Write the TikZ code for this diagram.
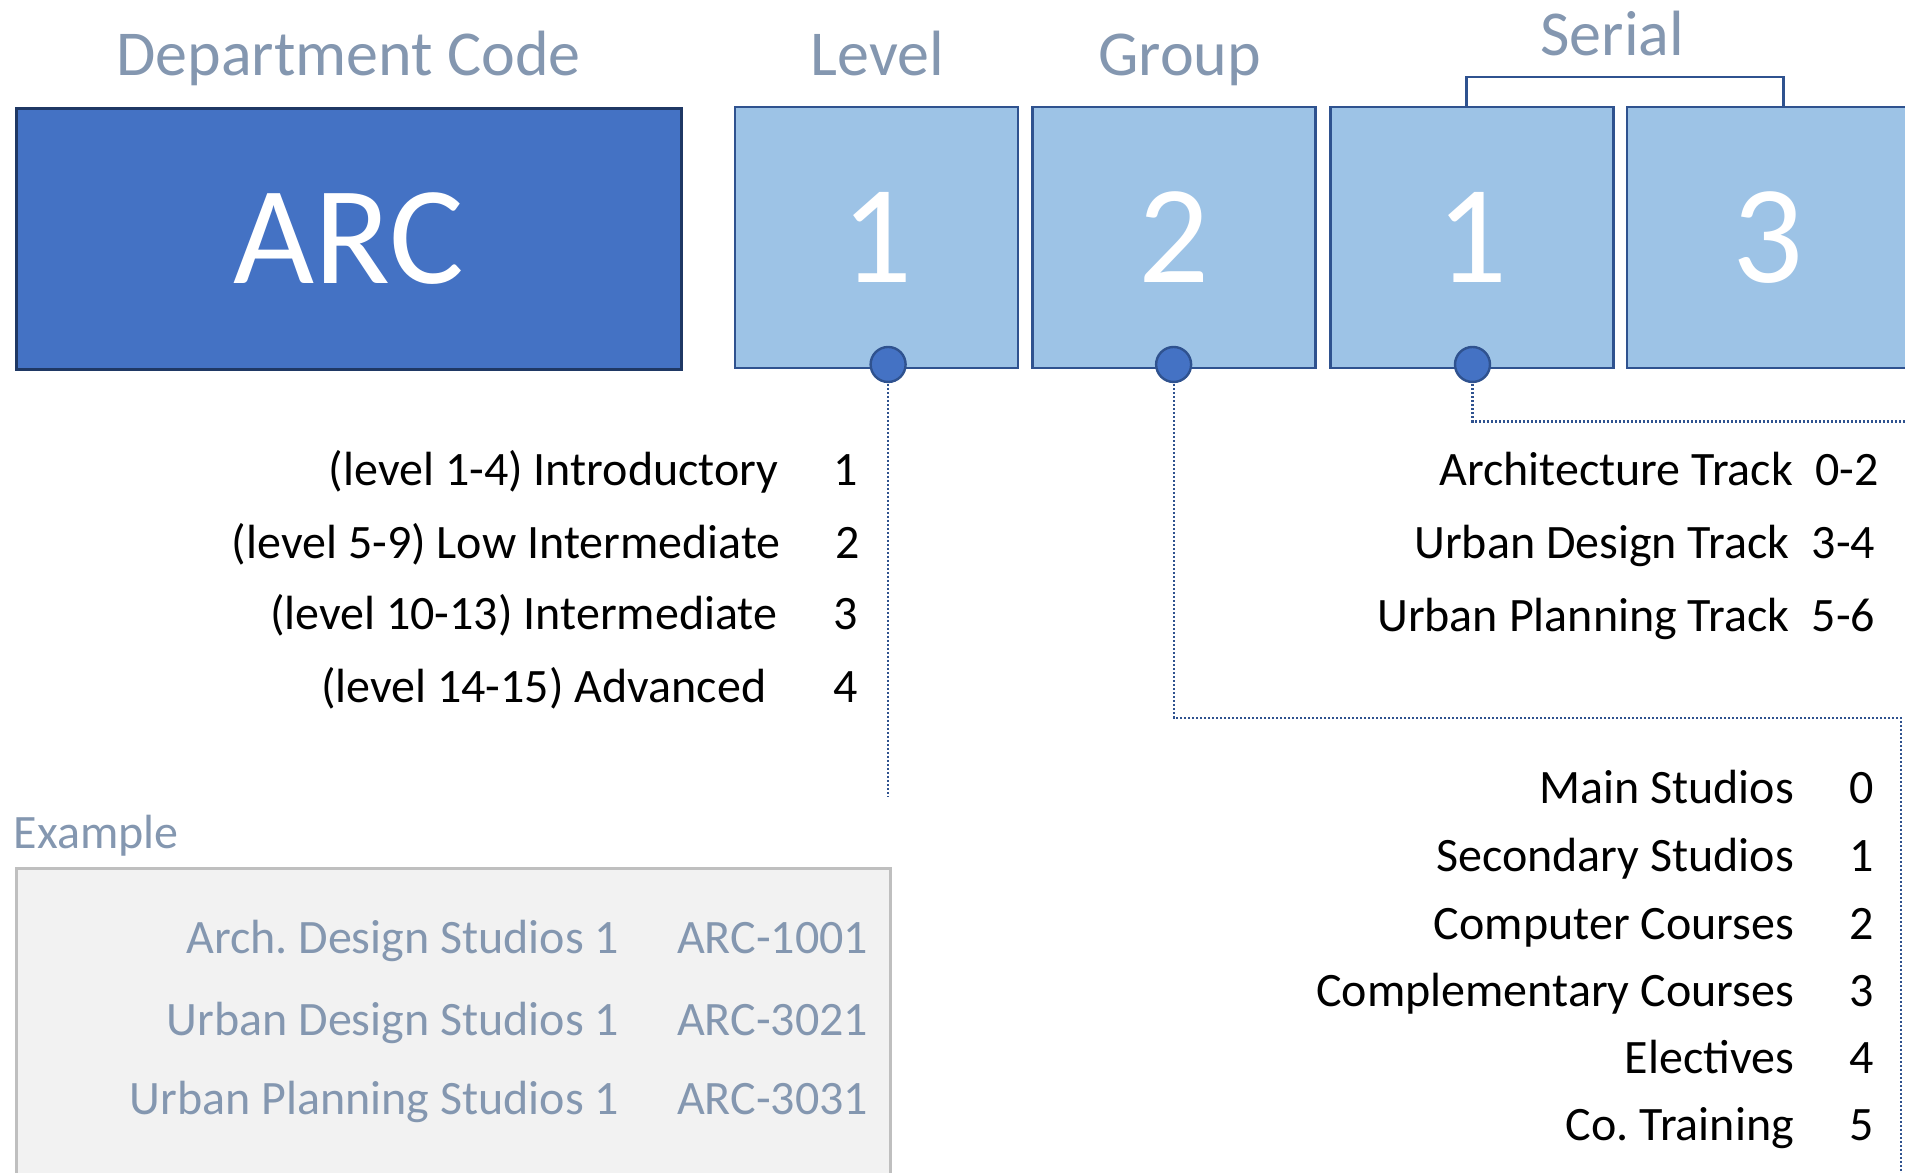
\documentclass[tikz,border=0pt]{standalone}
\usepackage{fontspec}
\setmainfont{Carlito}
\frenchspacing
\definecolor{darkblue}{HTML}{2F528F}
\definecolor{navy}{HTML}{1F3864}
\definecolor{midblue}{HTML}{4472C4}
\definecolor{lightblue}{HTML}{9DC3E6}
\definecolor{titlec}{HTML}{8497B0}
\definecolor{exfill}{HTML}{F2F2F2}
\definecolor{exline}{HTML}{BFBFBF}
\begin{document}
\begin{tikzpicture}[x=0.6075pt,y=-0.6075pt,
  title/.style={text=titlec,font=\fontsize{32}{38}\selectfont,anchor=base,inner sep=0pt},
  item/.style={font=\fontsize{24}{29}\selectfont,anchor=base east,inner sep=0pt},
  numc/.style={font=\fontsize{24}{29}\selectfont,anchor=base,inner sep=0pt},
  numw/.style={font=\fontsize{24}{29}\selectfont,anchor=base west,inner sep=0pt},
  exitem/.style={item,text=titlec},
  excode/.style={numw,text=titlec},
  digbox/.style={draw=darkblue,fill=lightblue,line width=1.2pt,anchor=north west,
    minimum width=141.5pt,minimum height=130.6pt,inner sep=0pt,outer sep=0pt,
    text=white,font=\fontsize{70}{80}\selectfont},
  dotc/.style={circle,fill=midblue,draw=darkblue,line width=1.2pt,minimum size=17.5pt,inner sep=0pt,outer sep=0pt},
  conn/.style={draw=darkblue,line width=1.1pt,dash pattern=on 1pt off 1pt}
]
\useasboundingbox (0,0) rectangle (1568,964.7);

% example box
\node[draw=exline,fill=exfill,line width=1.5pt,anchor=north west,minimum width=437pt,minimum height=160pt,inner sep=0pt] (exbox) at (12,714) {};
\node[text=titlec,font=\fontsize{24}{29}\selectfont,anchor=base west,inner sep=0pt] (extitle) at (11,698.5) {Example};
\node[exitem] (ex1) at (510,785) {Arch. Design Studios 1};
\node[exitem] (ex2) at (510,852) {Urban Design Studios 1};
\node[exitem] (ex3) at (510,917) {Urban Planning Studios 1};
\node[excode] (ec1) at (557,785) {ARC-1001};
\node[excode] (ec2) at (557,852) {ARC-3021};
\node[excode] (ec3) at (557,917) {ARC-3031};

% boxes
\node[draw=navy,fill=midblue,line width=1.5pt,anchor=north west,minimum width=332.5pt,minimum height=130.6pt,
  inner sep=0pt,text=white,font=\fontsize{70}{80}\selectfont] (arc) at (12,88) {ARC};
\node[digbox] (lev) at (605,88) {1};
\node[digbox] (grp) at (850,88) {2};
\node[digbox] (ser1) at (1095,88) {1};
\node[digbox] (ser2) at (1339,88) {3};

% titles
\node[title] (tdep) at (287,62.5) {Department Code};
\node[title] (tlev) at (722,62.5) {Level};
\node[title] (tgrp) at (971,62.5) {Group};
\node[title] (tser) at (1327,46) {Serial};

% serial bracket
\coordinate (bl) at (1207,88);
\coordinate (br) at (1468,88);
\draw[darkblue,line width=1.3pt] (bl) -- (1207,63.5) -- (1468,63.5) -- (br);

% connectors
\coordinate (levend) at (731,656);
\coordinate (grpturn) at (966,591);
\coordinate (grpcorner) at (1565,591);
\coordinate (grpend) at (1565,970);
\coordinate (serturn) at (1212,347);
\coordinate (serend) at (1572,347);
\draw[conn] (731,300) -- (levend);
\draw[conn] (966,300) -- (grpturn) -- (grpcorner) -- (grpend);
\draw[conn] (1212,300) -- (serturn) -- (serend);
\node[dotc] (dlev) at (731,300) {};
\node[dotc] (dgrp) at (966,300) {};
\node[dotc] (dser) at (1212,300) {};

% level list
\node[item] (l1) at (641,399.5) {(level 1-4) Introductory};
\node[item] (l2) at (643,459.5) {(level 5-9) Low Intermediate};
\node[item] (l3) at (640,518.5) {(level 10-13) Intermediate};
\node[item] (l4) at (631,578) {(level 14-15) Advanced};
\node[numc] (n1) at (696,399.5) {1};
\node[numc] (n2) at (698,459.5) {2};
\node[numc] (n3) at (696,518.5) {3};
\node[numc] (n4) at (696,578) {4};

% serial list
\node[item] (s1) at (1476,399.5) {Architecture Track};
\node[item] (s2) at (1473,459.5) {Urban Design Track};
\node[item] (s3) at (1473,519.5) {Urban Planning Track};
\node[numw] (sn1) at (1494,399.5) {0-2};
\node[numw] (sn2) at (1491,459.5) {3-4};
\node[numw] (sn3) at (1491,519.5) {5-6};

% group list
\node[item] (g0) at (1477,661.5) {Main Studios};
\node[item] (g1) at (1477,717.5) {Secondary Studios};
\node[item] (g2) at (1477,773.5) {Computer Courses};
\node[item] (g3) at (1477,828.5) {Complementary Courses};
\node[item] (g4) at (1477,883.5) {Electives};
\node[item] (g5) at (1477,938.5) {Co. Training};
\node[numc] (gn0) at (1532,661.5) {0};
\node[numc] (gn1) at (1532,717.5) {1};
\node[numc] (gn2) at (1532,773.5) {2};
\node[numc] (gn3) at (1532,828.5) {3};
\node[numc] (gn4) at (1532,883.5) {4};
\node[numc] (gn5) at (1532,938.5) {5};
\end{tikzpicture}
\end{document}
